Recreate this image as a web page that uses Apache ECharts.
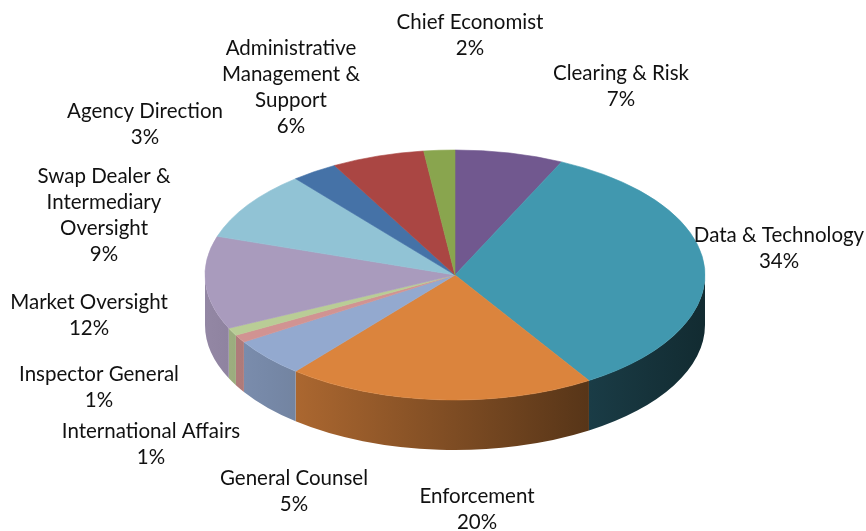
<!DOCTYPE html>
<html>
<head>
<meta charset="utf-8">
<style>html,body{margin:0;padding:0;background:#fff}#chart{width:866px;height:531px}</style>
<script src="https://cdn.jsdelivr.net/npm/echarts@6/dist/echarts.min.js"></script>
</head>
<body>
<div id="chart"></div>
<script>
// Budget share by division, clockwise from twelve o'clock.
const divisions = [
  'Clearing & Risk', 'Data & Technology', 'Enforcement', 'General Counsel',
  'International Affairs', 'Inspector General', 'Market Oversight',
  'Swap Dealer &\nIntermediary\nOversight', 'Agency Direction',
  'Administrative\nManagement &\nSupport', 'Chief Economist'
];
const shares = [7, 34, 20, 5, 1, 1, 12, 9, 3, 6, 2];
const sliceColors = [
  '#71588f', '#4198af', '#db843d', '#93a9cf', '#d19392', '#b9cd96',
  '#a99bbd', '#91c3d5', '#4572a7', '#aa4643', '#89a54e'
];
// Centre of each label block, in page pixels.
const labelCentres = [
  [621, 86], [779, 248], [477, 509], [294, 491], [151, 444], [99, 387],
  [89, 315], [104, 215], [145, 124], [291, 87], [470, 35]
];

// Pie disc geometry: flattened ellipse plus the height of the rim.
const disc = { cx: 455, cy: 275, rx: 250, ry: 125, depth: 50 };
const total = shares.reduce((a, b) => a + b, 0);

function pointAt(deg, yOffset) {
  const t = deg * Math.PI / 180;
  return [disc.cx + disc.rx * Math.sin(t), disc.cy + yOffset - disc.ry * Math.cos(t)];
}
function sliceSpan(index) {
  let before = 0;
  for (let i = 0; i < index; i++) before += shares[i];
  return [before / total * 360, (before + shares[index]) / total * 360];
}
function shade(hex, f) {
  const n = parseInt(hex.slice(1), 16);
  const c = [n >> 16, (n >> 8) & 255, n & 255].map(v => Math.round(v * f));
  return 'rgb(' + c.join(',') + ')';
}
// The rim darkens towards the right of the disc.
function rimLight(x) {
  const u = (x - (disc.cx - disc.rx)) / (2 * disc.rx);
  const anchors = [[0, 0.87], [0.18, 0.78], [0.78, 0.39], [1, 0.28]];
  for (let i = 1; i < anchors.length; i++) {
    if (u <= anchors[i][0]) {
      const a = anchors[i - 1], b = anchors[i];
      return a[1] + (b[1] - a[1]) * (u - a[0]) / (b[0] - a[0]);
    }
  }
  return 0.28;
}

function renderTop(params, api) {
  const i = params.dataIndex;
  const span = sliceSpan(i);
  const a = pointAt(span[0], 0), b = pointAt(span[1], 0);
  const large = span[1] - span[0] > 180 ? 1 : 0;
  const d = `M${disc.cx} ${disc.cy}L${a[0]} ${a[1]}A${disc.rx} ${disc.ry} 0 ${large} 1 ${b[0]} ${b[1]}Z`;
  return {
    type: 'group',
    children: [
      {
        type: 'path',
        shape: { pathData: d },
        style: { fill: sliceColors[i], stroke: sliceColors[i], lineWidth: 0.6 }
      },
      {
        type: 'text',
        x: labelCentres[i][0],
        y: labelCentres[i][1],
        style: {
          text: divisions[i] + '\n' + api.value(0) + '%',
          font: '20.5px Lato',
          lineHeight: 26,
          fill: '#111',
          align: 'center',
          verticalAlign: 'middle'
        }
      }
    ]
  };
}

function renderRim(params) {
  const i = params.dataIndex;
  const span = sliceSpan(i);
  const from = Math.max(span[0], 90), to = Math.min(span[1], 270);
  if (from >= to) return null;
  const a = pointAt(from, 0), b = pointAt(to, 0);
  const a2 = pointAt(from, disc.depth), b2 = pointAt(to, disc.depth);
  const { rx, ry } = disc;
  const d = `M${a[0]} ${a[1]}A${rx} ${ry} 0 0 1 ${b[0]} ${b[1]}L${b2[0]} ${b2[1]}A${rx} ${ry} 0 0 0 ${a2[0]} ${a2[1]}Z`;
  const left = b2[0], right = a2[0];
  const base = sliceColors[i];
  return {
    type: 'path',
    shape: { pathData: d },
    style: {
      fill: {
        type: 'linear', global: true, x: left, y: 0, x2: right, y2: 0,
        colorStops: [
          { offset: 0, color: shade(base, rimLight(left)) },
          { offset: 0.5, color: shade(base, rimLight((left + right) / 2)) },
          { offset: 1, color: shade(base, rimLight(right)) }
        ]
      }
    }
  };
}

const chart = echarts.init(document.getElementById('chart'), null, { renderer: 'canvas' });
chart.setOption({
  animation: false,
  backgroundColor: '#ffffff',
  series: [
    { type: 'custom', coordinateSystem: 'none', silent: true, z: 1, data: shares, renderItem: renderRim },
    { type: 'custom', coordinateSystem: 'none', silent: true, z: 2, data: shares, renderItem: renderTop }
  ]
});
</script>
</body>
</html>
